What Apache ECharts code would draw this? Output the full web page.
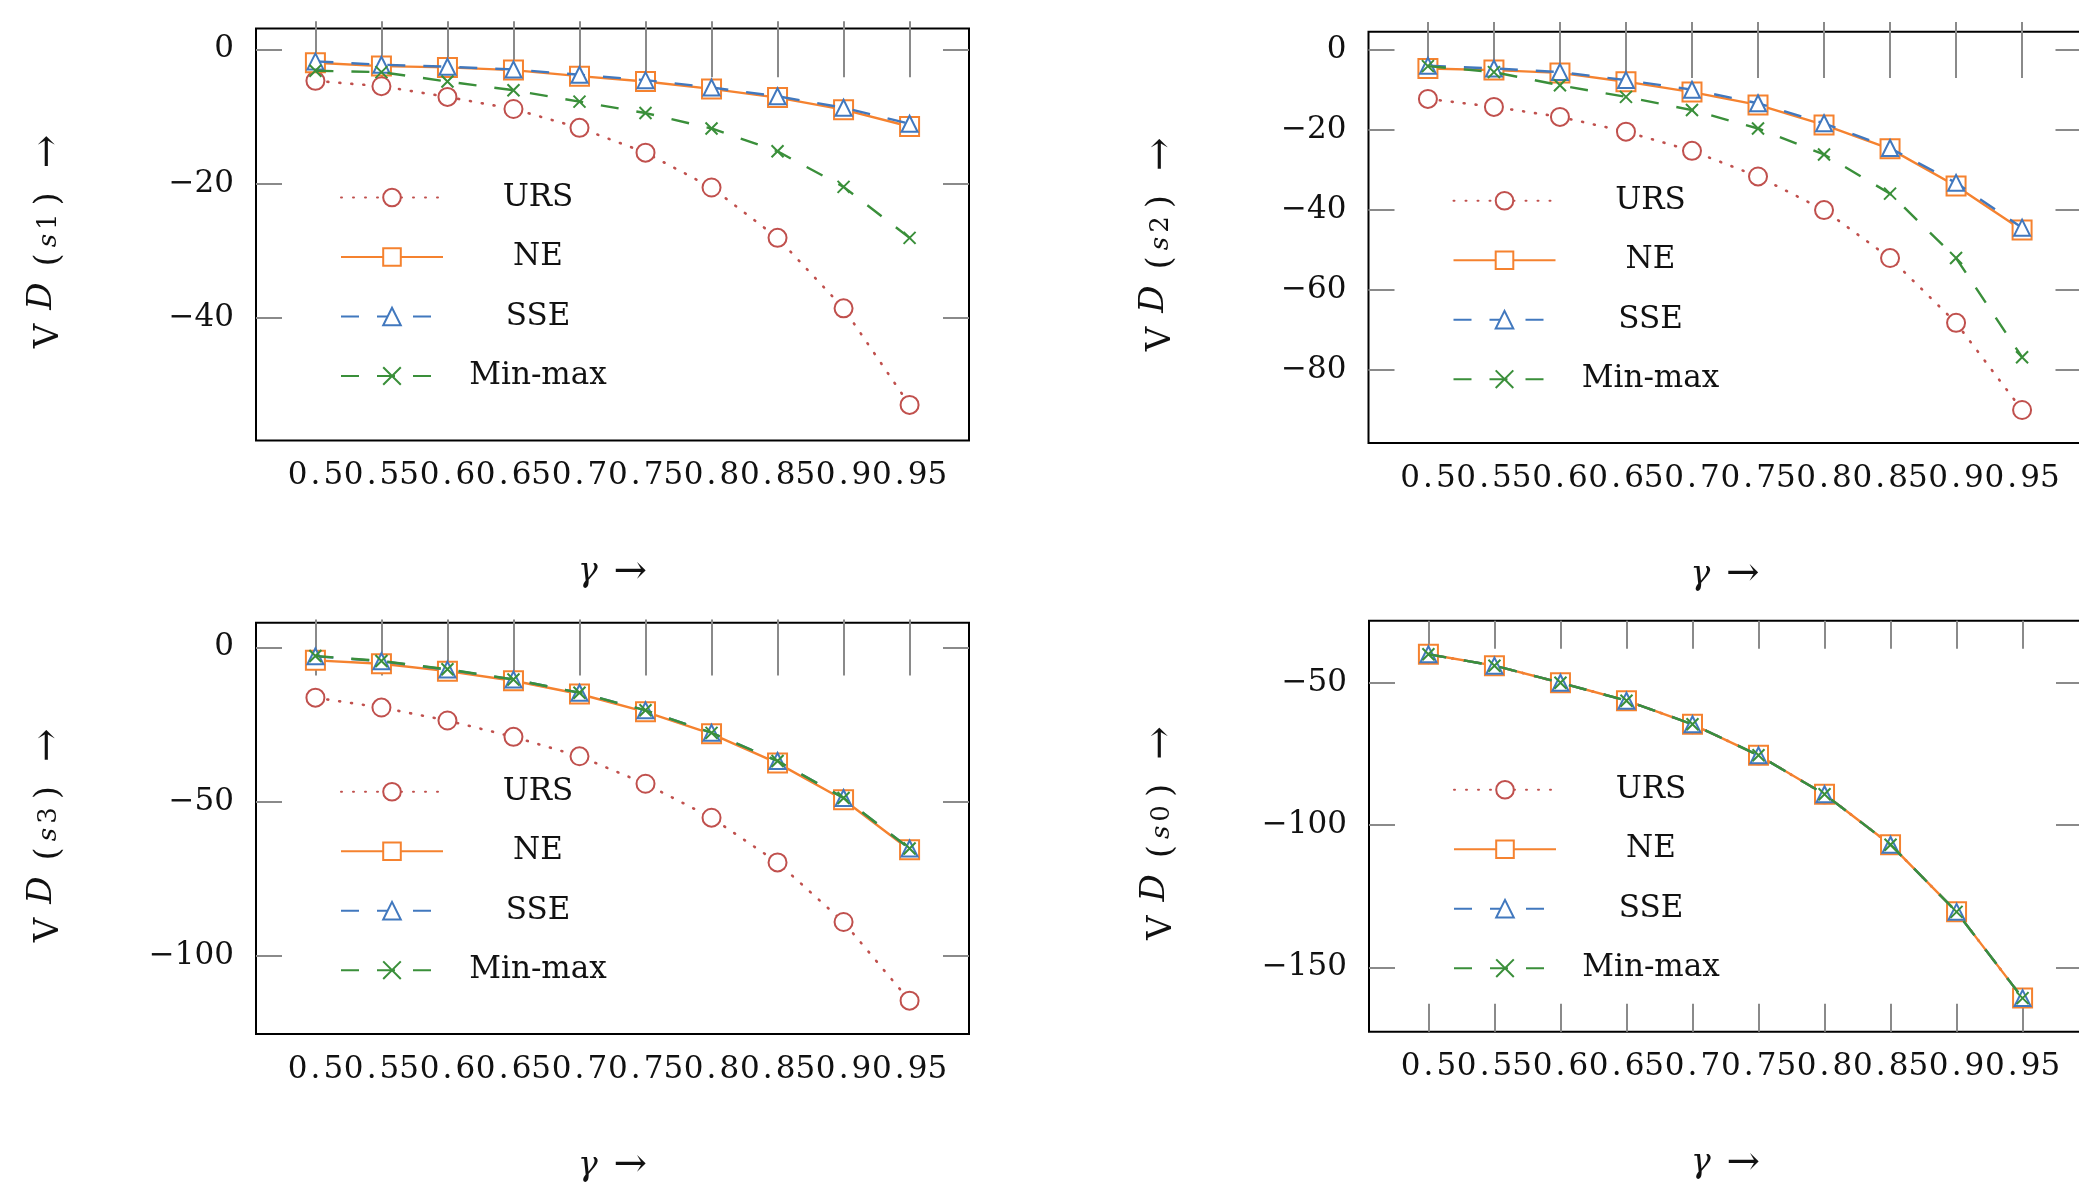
<!DOCTYPE html>
<html><head><meta charset="utf-8">
<script src="https://cdn.jsdelivr.net/npm/echarts@6/dist/echarts.min.js"></script>
<style>html,body{margin:0;padding:0;background:#fff;overflow:hidden}#c{width:2079px;height:1183px}</style>
</head><body><div id="c"></div>
<script>
// ---------- data ----------
const gammas = [0.5, 0.55, 0.6, 0.65, 0.7, 0.75, 0.8, 0.85, 0.9, 0.95];
const xTickLabels = ['0.5', '0.55', '0.6', '0.65', '0.7', '0.75', '0.8', '0.85', '0.9', '0.95'];
const seriesNames = ['URS', 'NE', 'SSE', 'Min-max'];

// V^D(s1)
const s1_URS    = [-4.7, -5.5, -7.1, -8.9, -11.7, -15.4, -20.6, -28.1, -38.6, -53.0];
const s1_NE     = [-2.0, -2.5, -2.7, -3.1, -4.0, -4.8, -5.9, -7.2, -9.0, -11.5];
const s1_SSE    = [-1.8, -2.3, -2.6, -3.0, -3.8, -4.6, -5.7, -7.0, -8.7, -11.1];
const s1_MinMax = [-3.2, -3.4, -4.8, -6.1, -7.8, -9.5, -11.8, -15.2, -20.5, -28.1];
const s1_yTicks = [0, -20, -40];
const s1_yTickLabels = ['0', '\u221220', '\u221240'];

// V^D(s2)
const s2_URS    = [-12.2, -14.2, -16.7, -20.4, -25.2, -31.6, -40.0, -52.0, -68.2, -90.0];
const s2_NE     = [-4.6, -5.0, -5.7, -7.9, -10.5, -13.7, -18.7, -24.7, -34.0, -45.0];
const s2_SSE    = [-3.9, -4.6, -5.5, -7.5, -9.9, -13.3, -18.3, -24.5, -33.2, -44.4];
const s2_MinMax = [-4.0, -5.5, -8.8, -11.7, -15.0, -19.6, -26.1, -35.9, -52.0, -76.8];
const s2_yTicks = [0, -20, -40, -60, -80];
const s2_yTickLabels = ['0', '\u221220', '\u221240', '\u221260', '\u221280'];

// V^D(s3)
const s3_URS    = [-16.3, -19.5, -23.7, -29.0, -35.3, -44.2, -55.2, -69.7, -89.0, -114.5];
const s3_NE     = [-4.2, -5.3, -7.7, -10.8, -15.1, -20.9, -28.0, -37.5, -49.4, -65.6];
const s3_SSE    = [-2.9, -4.5, -7.2, -10.4, -14.7, -20.4, -27.7, -36.8, -48.8, -65.2];
const s3_MinMax = [-2.8, -4.4, -7.1, -10.4, -14.7, -20.4, -27.7, -36.8, -48.8, -65.2];
const s3_yTicks = [0, -50, -100];
const s3_yTickLabels = ['0', '\u221250', '\u2212100'];

// V^D(s0)
const s0_URS    = [-40.0, -44.0, -50.0, -56.3, -64.6, -75.5, -89.2, -106.9, -130.5, -160.8];
const s0_NE     = [-40.0, -44.0, -50.0, -56.3, -64.6, -75.5, -89.2, -106.9, -130.5, -160.8];
const s0_SSE    = [-40.0, -44.0, -50.0, -56.3, -64.6, -75.5, -89.2, -106.9, -130.5, -160.8];
const s0_MinMax = [-40.0, -44.0, -50.0, -56.3, -64.6, -75.5, -89.2, -106.9, -130.5, -160.8];
const s0_yTicks = [-50, -100, -150];
const s0_yTickLabels = ['\u221250', '\u2212100', '\u2212150'];

// ---------- layout / style ----------
const FONT = 'DejaVu Serif';
const TXT = '#111';
const plots = [
  {sub: '1', vals: [s1_URS, s1_NE, s1_SSE, s1_MinMax], yTicks: s1_yTicks, yLabels: s1_yTickLabels, yMin: -58.3, yMax: 3.1,
   grid: {left: 256, top: 28.5, width: 713, height: 412}},
  {sub: '2', vals: [s2_URS, s2_NE, s2_SSE, s2_MinMax], yTicks: s2_yTicks, yLabels: s2_yTickLabels, yMin: -98.25, yMax: 4.6,
   grid: {left: 1368.5, top: 31.7, width: 713, height: 411.3}},
  {sub: '3', vals: [s3_URS, s3_NE, s3_SSE, s3_MinMax], yTicks: s3_yTicks, yLabels: s3_yTickLabels, yMin: -125.3, yMax: 8.0,
   grid: {left: 256, top: 622.7, width: 713, height: 411.3}},
  {sub: '0', vals: [s0_URS, s0_NE, s0_SSE, s0_MinMax], yTicks: s0_yTicks, yLabels: s0_yTickLabels, yMin: -172.6, yMax: -28.2,
   grid: {left: 1369, top: 620.7, width: 713, height: 411}}
];
const styles = [
  {color: '#c0504d', symbol: 'emptyCircle', size: 18, line: {type: [1, 11], width: 2.6, cap: 'round'}},
  {color: '#f5822f', symbol: 'emptyRect', size: 19, line: {type: 'solid', width: 2.4}},
  {color: '#4178be', symbol: 'emptyTriangle', size: 16, line: {type: [18, 18], width: 2.4}},
  {color: '#3a8f3a', symbol: 'path://M0,0L10,10M10,0L0,10', size: 12, line: {type: [18, 18], width: 2.4}}
];
const TICK = {color: '#8a8a8a', width: 2};

function fmtX(v) {
  const i = gammas.findIndex(g => Math.abs(g - v) < 1e-6);
  const s = i >= 0 ? xTickLabels[i] : '';
  return s.replace('.', '\u200A.\u200A');
}

const option = {
  animation: false,
  backgroundColor: '#fff',
  textStyle: {fontFamily: FONT, color: TXT},
  grid: [], xAxis: [], yAxis: [], legend: [], series: []
};

plots.forEach((p, i) => {
  option.grid.push(Object.assign({show: true, borderColor: '#000', borderWidth: 2, backgroundColor: 'transparent',
    containLabel: false, outerBoundsMode: 'none'}, p.grid));
  const xBase = {type: 'value', gridIndex: i, min: 0.455, max: 0.995, axisLine: {show: false}, splitLine: {show: false}};
  option.xAxis.push(Object.assign({}, xBase, {
    position: 'bottom',
    axisTick: {show: true, inside: true, length: 28, customValues: gammas, lineStyle: TICK},
    axisLabel: {show: true, customValues: gammas, margin: 20, formatter: fmtX, color: TXT, fontFamily: FONT, fontSize: 31},
    name: '{g|\u03B3}{a|\u2192}', nameLocation: 'middle', nameGap: 112,
    nameTextStyle: {rich: {
      g: {fontFamily: FONT, fontSize: 33, fontStyle: 'italic', color: TXT, padding: [0, 16, 0, 0]},
      a: {fontFamily: FONT, fontSize: 40, color: TXT}
    }}
  }));
  option.xAxis.push(Object.assign({}, xBase, {
    position: 'top',
    axisTick: {show: true, inside: true, length: 28, customValues: gammas, lineStyle: TICK},
    axisLabel: {show: false, customValues: gammas}
  }));
  const yBase = {type: 'value', gridIndex: i, min: p.yMin, max: p.yMax, axisLine: {show: false}, splitLine: {show: false}};
  option.yAxis.push(Object.assign({}, yBase, {
    position: 'left',
    axisTick: {show: true, inside: true, length: 26, customValues: p.yTicks, lineStyle: TICK},
    axisLabel: {show: true, customValues: p.yTicks, margin: 22, color: TXT, fontFamily: FONT, fontSize: 31,
      formatter: v => { const k = p.yTicks.findIndex(t => Math.abs(t - v) < 1e-6); return k >= 0 ? p.yLabels[k] : ''; }},
    name: '{v|V}{d|D}{p|(}{s|s}{n|' + p.sub + '}{q|)}{a|\u2192}', nameLocation: 'middle', nameRotate: 90, nameGap: 183,
    nameTextStyle: {rich: {
      v: {fontFamily: FONT, fontSize: 34, color: TXT, padding: [0, 14, 0, 0]},
      d: {fontFamily: FONT, fontSize: 34, fontStyle: 'italic', color: TXT, padding: [0, 16, 14, 0]},
      p: {fontFamily: FONT, fontSize: 34, color: TXT, padding: [0, 6, 0, 0]},
      s: {fontFamily: FONT, fontSize: 26, fontStyle: 'italic', color: TXT, padding: [0, 4, 0, 0]},
      n: {fontFamily: FONT, fontSize: 26, color: TXT, padding: [0, 8, 0, 0]},
      q: {fontFamily: FONT, fontSize: 34, color: TXT, padding: [0, 24, 0, 0]},
      a: {fontFamily: FONT, fontSize: 40, color: TXT, padding: [0, 14, 0, 0]}
    }}
  }));
  option.yAxis.push(Object.assign({}, yBase, {
    position: 'right',
    axisTick: {show: true, inside: true, length: 26, customValues: p.yTicks, lineStyle: TICK},
    axisLabel: {show: false, customValues: p.yTicks}
  }));

  option.legend.push({
    orient: 'vertical', left: p.grid.left + 84, top: p.grid.top + 169 - 20, padding: 0,
    itemGap: 19.5, itemWidth: 102, itemHeight: 22, data: seriesNames, selectedMode: false,
    formatter: n => '{n|' + n + '}',
    textStyle: {rich: {n: {width: 180, align: 'center', height: 40, lineHeight: 40, fontSize: 31, fontFamily: FONT, color: TXT}}}
  });

  seriesNames.forEach((name, k) => {
    const st = styles[k];
    option.series.push({
      type: 'line', name: name, xAxisIndex: 2 * i, yAxisIndex: 2 * i,
      data: gammas.map((g, j) => [g, p.vals[k][j]]),
      symbol: st.symbol, symbolSize: st.size, showSymbol: true, showAllSymbol: true,
      itemStyle: {color: st.color, borderColor: st.color, borderWidth: 2},
      lineStyle: {color: st.color, width: st.line.width, type: st.line.type, cap: st.line.cap || 'butt'},
      emphasis: {disabled: true}, z: 2 + k
    });
  });
});

const chart = echarts.init(document.getElementById('c'), null, {renderer: 'canvas'});
chart.setOption(option);
</script></body></html>
